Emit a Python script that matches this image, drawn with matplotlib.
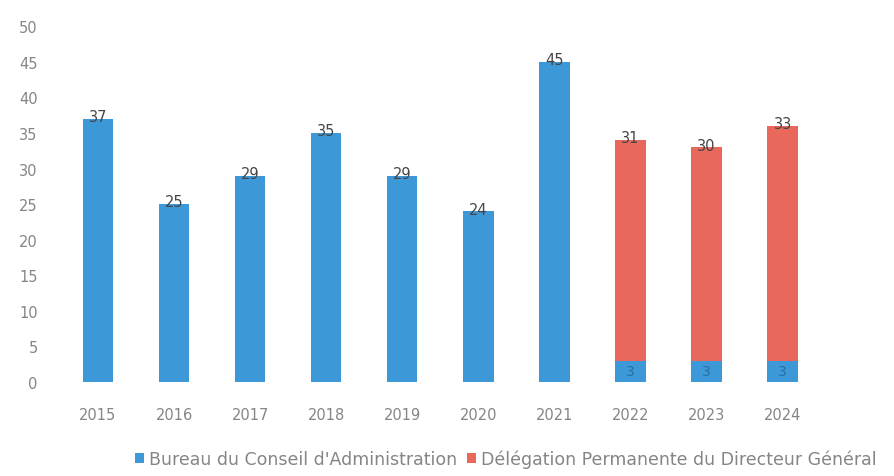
import matplotlib
matplotlib.use("Agg")
import matplotlib.pyplot as plt
import numpy as np

plt.rcParams['font.family'] = ['DejaVu Sans']

years = ["2015", "2016", "2017", "2018", "2019", "2020", "2021", "2022", "2023", "2024"]
bureau = [37, 25, 29, 35, 29, 24, 45, 3, 3, 3]
delegation = [0, 0, 0, 0, 0, 0, 0, 31, 30, 33]
series_names = ["Bureau du Conseil d'Administration", "Délégation Permanente du Directeur Général"]
yticks = [0, 5, 10, 15, 20, 25, 30, 35, 40, 45, 50]

blue = "#3D98D8"
red = "#E8695C"

fig = plt.figure(figsize=(8.94, 4.77), dpi=100)
ax = fig.add_axes([0.067, 0.197, 0.851, 0.746])

x = np.arange(len(years))
w = 0.4
b1 = ax.bar(x, bureau, w, color=blue, label=series_names[0])
b2 = ax.bar(x, delegation, w, bottom=bureau, color=red, label=series_names[1])

for i in range(len(years)):
    if delegation[i] > 0:
        ax.text(x[i], bureau[i] / 2, str(bureau[i]), ha='center', va='center',
                fontsize=10, color="#2B6EA6")
        top = bureau[i] + delegation[i]
        ax.text(x[i], top + 0.3, str(delegation[i]), ha='center', va='center',
                fontsize=10.5, color="#454545")
    else:
        ax.text(x[i], bureau[i] + 0.3, str(bureau[i]), ha='center', va='center',
                fontsize=10.5, color="#454545")

ax.set_xlim(-0.5, len(years) - 0.5)
ax.set_ylim(0, 50)
ax.set_yticks(yticks)
ax.set_yticklabels([str(t) for t in yticks])
ax.set_xticks(x)
ax.set_xticklabels(years)
for s in ax.spines.values():
    s.set_visible(False)
ax.tick_params(axis='both', length=0, labelsize=10.5, colors="#858585")
ax.tick_params(axis='y', pad=16)
ax.tick_params(axis='x', pad=18)

leg = fig.legend(handles=[b1, b2], labels=series_names, loc='center',
                 bbox_to_anchor=(0.566, 0.036), ncol=2, frameon=False,
                 fontsize=12.5, handlelength=0.5, handleheight=0.5,
                 handletextpad=0.3, columnspacing=0.6)
for t in leg.get_texts():
    t.set_color("#858585")

fig.savefig("out.png", dpi=100)
